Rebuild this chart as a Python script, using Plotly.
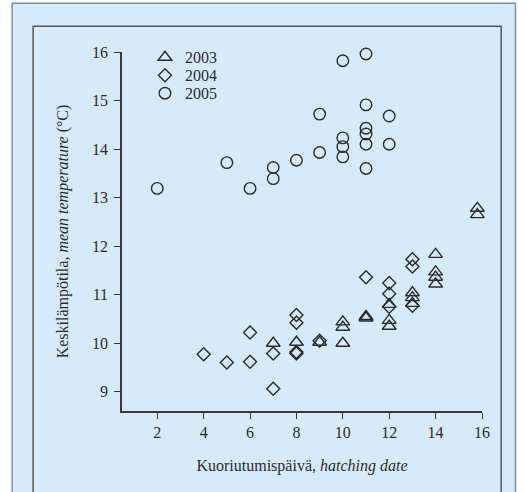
import plotly.graph_objects as go

# ---- data ----
x_2003 = [7, 8, 9, 10, 10, 10, 11, 11, 12, 12, 12, 13, 13, 13, 14, 14, 14, 14, 15.8, 15.8]
y_2003 = [10.00, 10.02, 10.02, 10.44, 10.33, 10.00, 10.55, 10.52, 10.80, 10.47, 10.35,
          11.04, 10.94, 10.82, 11.83, 11.47, 11.36, 11.22, 12.78, 12.65]

x_2004 = [4, 5, 6, 6, 7, 7, 8, 8, 8, 8, 9, 11, 12, 12, 12, 13, 13, 13]
y_2004 = [9.77, 9.60, 9.62, 10.22, 9.79, 9.06, 10.58, 10.42, 9.82, 9.79, 10.05,
          11.36, 11.24, 11.02, 10.75, 11.73, 11.58, 10.77]

x_2005 = [2, 5, 6, 7, 7, 8, 9, 9, 10, 10, 10, 10, 11, 11, 11, 11, 11, 11, 12, 12]
y_2005 = [13.19, 13.72, 13.19, 13.62, 13.39, 13.77, 14.72, 13.93, 15.82, 14.23, 14.05, 13.84,
          15.96, 14.91, 14.43, 14.31, 14.10, 13.60, 14.68, 14.10]

x_ticks = [2, 4, 6, 8, 10, 12, 14, 16]
y_ticks = [9, 10, 11, 12, 13, 14, 15, 16]

# ---- layout geometry (pixels) ----
W, H = 527, 492
L, R_EDGE, T, B_EDGE = 122, 482.5, 51.7, 411
BG = "#d5ebfb"
INK = "#2b2b2b"
FONT = "'Liberation Serif', 'Times New Roman', Times, serif"

def px(xp):
    return (xp - L) / (R_EDGE - L)

def py(yp):
    return (B_EDGE - yp) / (B_EDGE - T)

mk_line = dict(color=INK, width=1.4)
fig = go.Figure()
fig.add_trace(go.Scatter(x=x_2003, y=y_2003, mode="markers", name="2003", cliponaxis=False,
                         legend="legend",
                         marker=dict(symbol="triangle-up-open", size=12, line=mk_line, color=INK)))
fig.add_trace(go.Scatter(x=x_2004, y=y_2004, mode="markers", name="2004", cliponaxis=False,
                         legend="legend2",
                         marker=dict(symbol="diamond-open", size=10, line=mk_line, color=INK)))
fig.add_trace(go.Scatter(x=x_2005, y=y_2005, mode="markers", name="2005", cliponaxis=False,
                         legend="legend3",
                         marker=dict(symbol="circle-open", size=11.5, line=mk_line, color=INK)))

shapes = [
    dict(type="rect", xref="paper", yref="paper", layer="below",
         x0=px(12), x1=px(516), y0=py(520), y1=py(3),
         fillcolor=BG, line=dict(color="#8a8a8a", width=1.5)),
    dict(type="rect", xref="paper", yref="paper", layer="below",
         x0=px(33), x1=px(501.7), y0=py(520), y1=py(26),
         fillcolor=BG, line=dict(color="#555555", width=1.5)),
]

axis_common = dict(showline=True, linecolor="#3a3a3a", linewidth=1.5, ticks="outside",
                   ticklen=6, tickwidth=1.2, tickcolor="#3a3a3a", showgrid=False,
                   zeroline=False, mirror=False,
                   tickfont=dict(family=FONT, size=16, color=INK))

def leg(ycenter):
    return dict(x=px(145), y=py(ycenter - 12), xanchor="left", yanchor="top",
                bgcolor="rgba(0,0,0,0)", font=dict(family=FONT, size=16, color=INK),
                itemclick=False, itemdoubleclick=False)

fig.update_layout(
    width=W, height=H,
    margin=dict(l=L, r=W - R_EDGE, t=T, b=H - B_EDGE, pad=0),
    paper_bgcolor="white", plot_bgcolor="rgba(0,0,0,0)",
    font=dict(family=FONT, size=16, color=INK),
    shapes=shapes,
    showlegend=True,
    legend=leg(52), legend2=leg(70), legend3=leg(88),
    xaxis=dict(range=[0.48, 16], tickvals=x_ticks, ticklabelstandoff=0,
               title=dict(text="Kuoriutumispäivä, <i>hatching date</i>", standoff=20,
                          font=dict(family=FONT, size=16, color=INK)),
               **axis_common),
    yaxis=dict(range=[8.603, 16], tickvals=y_ticks, ticklabelstandoff=3,
               title=dict(text="Keskilämpötila, <i>mean temperature</i> (°C)", standoff=19,
                          font=dict(family=FONT, size=16, color=INK)),
               **axis_common),
)

fig.write_html("out.html", config={"displayModeBar": False},
               post_script="document.body.style.margin='0';document.body.style.overflow='hidden';")
